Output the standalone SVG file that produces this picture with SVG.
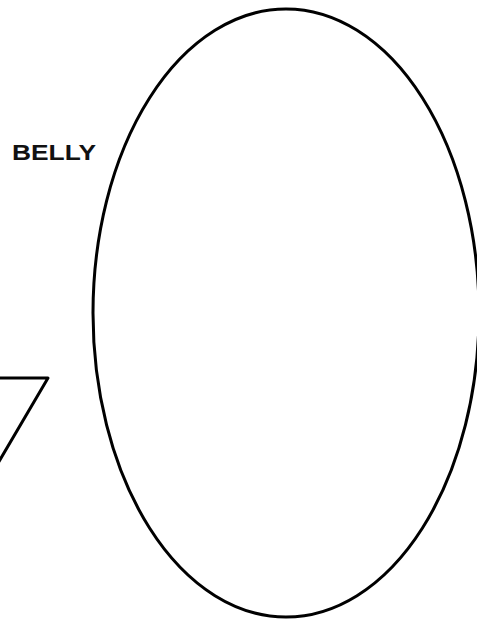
<svg xmlns="http://www.w3.org/2000/svg" width="477" height="620" viewBox="0 0 477 620">
<style>
.s{fill:none;stroke:#000;stroke-width:3;stroke-linejoin:round;stroke-linecap:round}
.t{font-family:"Liberation Sans",Arial,sans-serif;font-weight:bold;font-size:22px;fill:#111}
</style>
<rect width="477" height="620" fill="#fff"/>
<g id="belly">
<ellipse class="s" cx="286" cy="313" rx="193" ry="304"/>
<text class="t" x="12" y="160" textLength="84" lengthAdjust="spacingAndGlyphs">BELLY</text>
</g>
<g id="triangle">
<polyline class="s" points="-10,378 48,378 -6,470"/>
</g>
</svg>
